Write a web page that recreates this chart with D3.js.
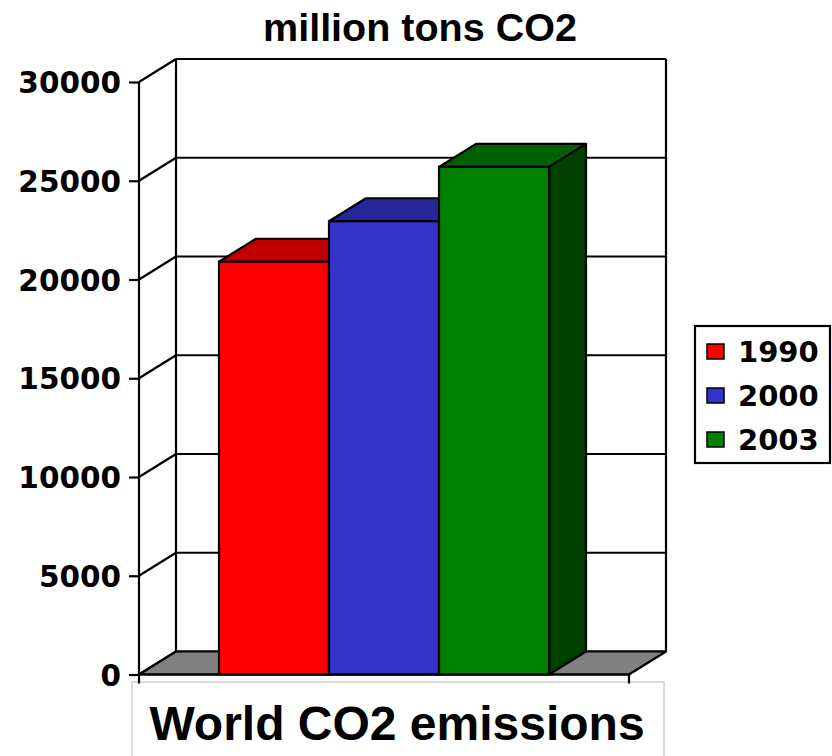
<!DOCTYPE html>
<html>
<head>
<meta charset="utf-8">
<script src="https://cdn.jsdelivr.net/npm/d3@7"></script>
<style>
  html, body { margin: 0; padding: 0; background: #fff; }
  svg { display: block; }
</style>
</head>
<body>
<svg id="chart" width="832" height="756"></svg>
<script>
// World CO2 emissions, million tons
const series = ["1990", "2000", "2003"];
const values = [20900, 22950, 25700];
const frontColors = ["#ff0000", "#3333cc", "#008000"];
const topColors = ["#c00000", "#262699", "#005f00"];
const sideColors = ["#900000", "#1a1a80", "#004000"];
const yTicks = [0, 5000, 10000, 15000, 20000, 25000, 30000];
const chartTitle = "million tons CO2";
const categoryTitle = "World CO2 emissions";

const svg = d3.select("#chart");

// 3D frame geometry: front plane and depth offset of the back wall
const frontLeft = 139, frontRight = 629;
const depthX = 37, depthY = -23;
const barInset = 80;

const y = d3.scaleLinear().domain([0, 30000]).range([674.5, 82]);
const x = d3.scaleBand().domain(series)
  .range([frontLeft + barInset, frontRight - barInset]).padding(0);

const line = (pts) => "M" + pts.map(p => p.join(",")).join("L");
const poly = (pts) => line(pts) + "Z";

const ink = "#000";
const sw = 2.2;

// Back wall gridlines and left wall diagonals
const grid = svg.append("g");
grid.selectAll("line.back").data(yTicks).join("line")
  .attr("x1", frontLeft + depthX).attr("x2", frontRight + depthX)
  .attr("y1", d => y(d) + depthY).attr("y2", d => y(d) + depthY)
  .attr("stroke", ink).attr("stroke-width", sw);
grid.selectAll("line.side").data(yTicks).join("line")
  .attr("x1", frontLeft).attr("y1", d => y(d))
  .attr("x2", frontLeft + depthX).attr("y2", d => y(d) + depthY)
  .attr("stroke", ink).attr("stroke-width", sw);

// Back wall verticals
grid.append("line")
  .attr("x1", frontLeft + depthX).attr("x2", frontLeft + depthX)
  .attr("y1", y(30000) + depthY).attr("y2", y(0) + depthY)
  .attr("stroke", ink).attr("stroke-width", sw);
grid.append("line")
  .attr("x1", frontRight + depthX).attr("x2", frontRight + depthX)
  .attr("y1", y(30000) + depthY).attr("y2", y(0) + depthY)
  .attr("stroke", ink).attr("stroke-width", sw);

// Floor
svg.append("path")
  .attr("d", poly([[frontLeft, y(0)], [frontRight, y(0)],
                   [frontRight + depthX, y(0) + depthY], [frontLeft + depthX, y(0) + depthY]]))
  .attr("fill", "#808080").attr("stroke", ink).attr("stroke-width", sw)
  .attr("stroke-linejoin", "round");

// Category title box
svg.append("rect")
  .attr("x", 132).attr("y", 682).attr("width", 532).attr("height", 120)
  .attr("fill", "#fff").attr("stroke", "#cfcfcf").attr("stroke-width", 1.5);

// Bars: top, side and front faces
const bars = svg.append("g").selectAll("g").data(series).join("g");
bars.each(function (s, i) {
  const g = d3.select(this);
  const x0 = x(s), x1 = x(s) + x.bandwidth();
  const yt = y(values[i]), yb = y(0);
  g.append("path")
    .attr("d", poly([[x0, yt], [x1, yt], [x1 + depthX, yt + depthY], [x0 + depthX, yt + depthY]]))
    .attr("fill", topColors[i]).attr("stroke", ink).attr("stroke-width", sw)
    .attr("stroke-linejoin", "round");
  g.append("path")
    .attr("d", poly([[x1, yt], [x1 + depthX, yt + depthY], [x1 + depthX, yb + depthY], [x1, yb]]))
    .attr("fill", sideColors[i]).attr("stroke", ink).attr("stroke-width", sw)
    .attr("stroke-linejoin", "round");
  g.append("rect")
    .attr("x", x0).attr("y", yt).attr("width", x1 - x0).attr("height", yb - yt)
    .attr("fill", frontColors[i]).attr("stroke", ink).attr("stroke-width", sw);
});

// Front value axis
const axis = d3.axisLeft(y).tickValues(yTicks).tickSize(10).tickPadding(8)
  .tickFormat(d3.format("d"));
const axisG = svg.append("g").attr("transform", `translate(${frontLeft},0)`).call(axis);
axisG.select(".domain").remove();
axisG.selectAll(".tick line").attr("stroke", ink).attr("stroke-width", sw);
axisG.selectAll(".tick text")
  .attr("font-family", "'DejaVu Sans', Verdana, sans-serif")
  .attr("font-weight", "bold").attr("font-size", 29.5).attr("fill", ink)
  .attr("dy", "0.36em");
svg.append("line")
  .attr("x1", frontLeft).attr("x2", frontLeft)
  .attr("y1", y(30000)).attr("y2", y(0) + 9)
  .attr("stroke", ink).attr("stroke-width", sw);

// Front floor edge with end ticks
svg.append("line")
  .attr("x1", frontLeft).attr("x2", frontRight)
  .attr("y1", y(0)).attr("y2", y(0))
  .attr("stroke", ink).attr("stroke-width", sw);
svg.append("line")
  .attr("x1", frontRight).attr("x2", frontRight)
  .attr("y1", y(0)).attr("y2", y(0) + 9)
  .attr("stroke", ink).attr("stroke-width", sw);

// Titles
svg.append("text")
  .attr("x", 420).attr("y", 41)
  .attr("text-anchor", "middle")
  .attr("font-family", "'Liberation Sans', Arial, sans-serif")
  .attr("font-weight", "bold").attr("font-size", 39.5)
  .text(chartTitle);
svg.append("text")
  .attr("x", 397).attr("y", 740)
  .attr("text-anchor", "middle")
  .attr("font-family", "'Liberation Sans', Arial, sans-serif")
  .attr("font-weight", "bold").attr("font-size", 48)
  .text(categoryTitle);

// Legend
const legend = svg.append("g");
legend.append("rect")
  .attr("x", 695).attr("y", 326).attr("width", 135).attr("height", 137)
  .attr("fill", "#fff").attr("stroke", ink).attr("stroke-width", sw);
const itemY = d3.scalePoint().domain(series).range([352, 440]);
const items = legend.selectAll("g.item").data(series).join("g")
  .attr("transform", d => `translate(0,${itemY(d)})`);
items.append("rect")
  .attr("x", 707).attr("y", -8).attr("width", 17).attr("height", 15)
  .attr("fill", (d, i) => frontColors[i]).attr("stroke", ink).attr("stroke-width", 1.5);
items.append("text")
  .attr("x", 738).attr("y", 0).attr("dy", "0.36em")
  .attr("font-family", "'DejaVu Sans', Verdana, sans-serif")
  .attr("font-weight", "bold").attr("font-size", 29)
  .text(d => d);
</script>
</body>
</html>
